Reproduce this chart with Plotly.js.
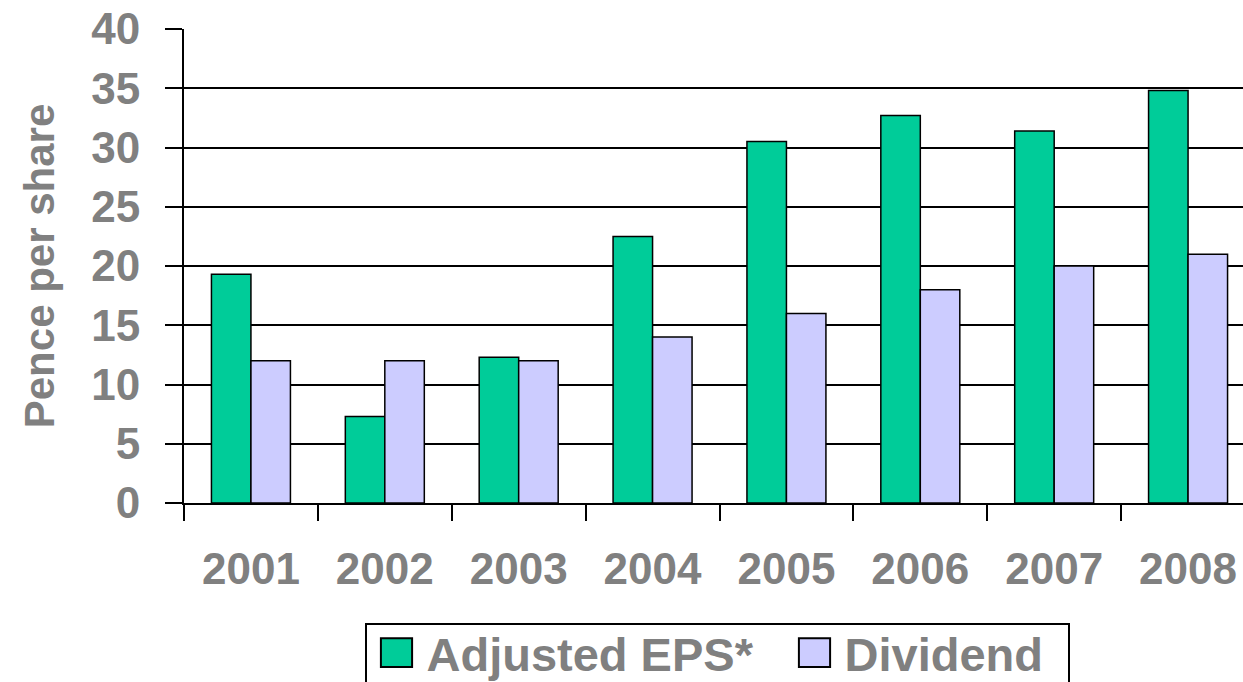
<!DOCTYPE html>
<html>
<head>
<meta charset="utf-8">
<script src="https://cdn.plot.ly/plotly-3.0.1.min.js"></script>
<style>
html,body{margin:0;padding:0;background:#fff;overflow:hidden;}
#chart{width:1262px;height:682px;}
</style>
</head>
<body>
<div id="chart"></div>
<script>
const years = ["2001","2002","2003","2004","2005","2006","2007","2008"];
const adjustedEPS = [19.3, 7.3, 12.3, 22.5, 30.5, 32.7, 31.4, 34.8];
const dividend = [12.0, 12.0, 12.0, 14.0, 16.0, 18.0, 20.0, 21.0];
const yTicks = [0,5,10,15,20,25,30,35,40];

const gray = "#808080";
const fontFam = "Liberation Sans, Arial, sans-serif";

const traces = [
  {type:"bar", name:"Adjusted EPS*", x:years, y:adjustedEPS,
   marker:{color:"#00CC99", line:{color:"#000", width:1.5}}},
  {type:"bar", name:"Dividend", x:years, y:dividend,
   marker:{color:"#CCCCFF", line:{color:"#000", width:1.5}}}
];

const layout = {
  width:1262, height:682,
  margin:{l:184, r:7, t:29, b:179},
  paper_bgcolor:"#fff", plot_bgcolor:"#fff",
  barmode:"group", bargap:0.41, bargroupgap:0,
  showlegend:true,
  legend:{orientation:"h", xref:"container", x:365/1262, xanchor:"left",
    yref:"container", y:(682-623)/682, yanchor:"top",
    bordercolor:"#000", borderwidth:1.5, bgcolor:"#fff",
    font:{family:fontFam, size:47, color:gray, weight:"bold"},
    itemwidth:50, entrywidth:353, tracegroupgap:0},
  xaxis:{type:"category", tickson:"boundaries", ticks:"outside", ticklen:16,
    tickcolor:"#000", tickwidth:2, showgrid:false, showline:true,
    linecolor:"#000", linewidth:2, ticklabelstandoff:26, automargin:false,
    tickfont:{family:fontFam, size:44, color:gray, weight:"bold"}},
  yaxis:{range:[0,40], tickvals:yTicks, ticktext:yTicks.map(String),
    ticks:"outside", ticklen:17, tickcolor:"#000", tickwidth:2,
    showline:true, linecolor:"#000", linewidth:2, automargin:false,
    showgrid:true, gridcolor:"#000", gridwidth:2, zeroline:false,
    ticklabelstandoff:16,
    tickfont:{family:fontFam, size:44, color:gray, weight:"bold"},
    title:{text:"Pence per share", standoff:24,
      font:{family:fontFam, size:42, color:gray, weight:"bold"}}}
};

Plotly.newPlot("chart", traces, layout, {displayModeBar:false, staticPlot:true}).then(function(gd){
  const leg = gd.querySelector(".legend");
  if(!leg) return;
  // enlarge the legend swatches to match the reference's square keys
  leg.querySelectorAll(".legendpoints path").forEach(function(p){
    const t = p.getAttribute("transform") || "";
    p.setAttribute("transform", t + " scale(2.6,2.4)");
    p.style.vectorEffect = "non-scaling-stroke";
    p.style.strokeWidth = "2px";
    p.style.stroke = "#000";
  });
  // lift the entries slightly inside the box
  leg.querySelectorAll("g.traces").forEach(function(g){
    const t = g.getAttribute("transform") || "";
    const m = t.match(/translate\(\s*([-\d.]+)[ ,]+([-\d.]+)\s*\)/);
    if(m) g.setAttribute("transform", "translate(" + m[1] + "," + (parseFloat(m[2]) - 9) + ")");
  });
  // tighten the frame round the entries
  const bg = leg.querySelector("rect.bg");
  if(bg) bg.setAttribute("width", 703);
});
</script>
</body>
</html>
